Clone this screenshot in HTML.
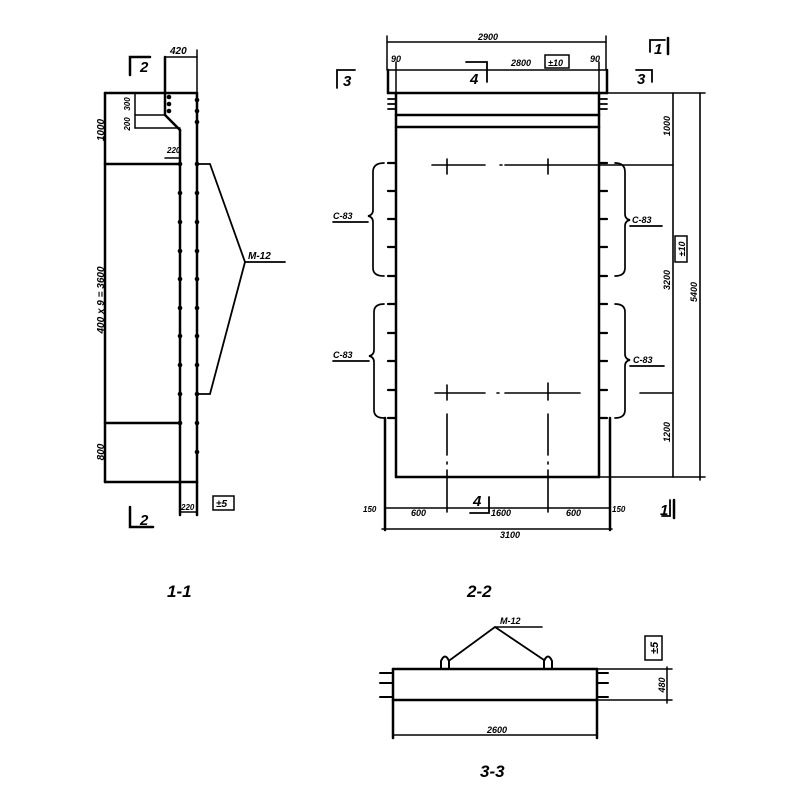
<!DOCTYPE html>
<html><head><meta charset="utf-8"><style>
html,body{margin:0;padding:0;background:#fff}
svg{display:block}
text{font-family:"Liberation Sans",sans-serif;font-style:italic;font-weight:bold;fill:#000}
</style></head><body>
<svg width="800" height="800" viewBox="0 0 800 800" xmlns="http://www.w3.org/2000/svg">
<g stroke="#000" stroke-width="2.5" fill="none" stroke-linecap="round">
<line x1="105" y1="93" x2="197" y2="93"/>
<line x1="105" y1="93" x2="105" y2="482"/>
<line x1="105" y1="482" x2="197" y2="482"/>
<line x1="197" y1="93" x2="197" y2="515"/>
<line x1="180" y1="130" x2="180" y2="515"/>
<polyline points="165,57 165,115 180,130"/>
<line x1="105" y1="164" x2="180" y2="164"/>
<line x1="105" y1="423" x2="180" y2="423"/>
<line x1="165" y1="57" x2="197" y2="57" stroke-width="1.5"/>
<line x1="197" y1="50" x2="197" y2="93" stroke-width="1.5"/>
<line x1="135" y1="93" x2="135" y2="128" stroke-width="1.5"/>
<line x1="135" y1="115" x2="165" y2="115" stroke-width="1.5"/>
<line x1="135" y1="128" x2="180" y2="128" stroke-width="1.5"/>
<line x1="165" y1="158" x2="180" y2="158" stroke-width="1.5"/>
<line x1="180" y1="512" x2="197" y2="512" stroke-width="1.5"/>
<polyline points="197,164 210,164 245,262 210,394 197,394" stroke-width="1.8"/>
<line x1="245" y1="262" x2="285" y2="262" stroke-width="1.8"/>
<polyline points="130,75 130,57 150,57"/>
<polyline points="130,507 130,527 153,527"/>
<line x1="396" y1="93" x2="599" y2="93"/>
<line x1="396" y1="115" x2="599" y2="115"/>
<line x1="396" y1="127" x2="599" y2="127"/>
<line x1="396" y1="477" x2="599" y2="477"/>
<line x1="396" y1="93" x2="396" y2="477"/>
<line x1="599" y1="93" x2="599" y2="477"/>
<line x1="388" y1="70" x2="388" y2="93"/>
<line x1="607" y1="70" x2="607" y2="93"/>
<line x1="388" y1="93" x2="396" y2="93"/>
<line x1="599" y1="93" x2="607" y2="93"/>
<line x1="388" y1="70" x2="607" y2="70" stroke-width="1.5"/>
<line x1="396" y1="62" x2="396" y2="93" stroke-width="1.5"/>
<line x1="599" y1="62" x2="599" y2="93" stroke-width="1.5"/>
<line x1="387" y1="42" x2="606" y2="42" stroke-width="1.5"/>
<line x1="387" y1="36" x2="387" y2="70" stroke-width="1.5"/>
<line x1="606" y1="36" x2="606" y2="70" stroke-width="1.5"/>
<g stroke-width="1.8">
<line x1="388" y1="99" x2="396" y2="99"/><line x1="388" y1="104" x2="396" y2="104"/><line x1="388" y1="109" x2="396" y2="109"/>
<line x1="599" y1="99" x2="607" y2="99"/><line x1="599" y1="104" x2="607" y2="104"/><line x1="599" y1="109" x2="607" y2="109"/>
</g>
<g stroke-width="2.2">
<line x1="388" y1="163" x2="396" y2="163"/><line x1="388" y1="191" x2="396" y2="191"/><line x1="388" y1="219" x2="396" y2="219"/><line x1="388" y1="247" x2="396" y2="247"/><line x1="388" y1="276" x2="396" y2="276"/>
<line x1="388" y1="304" x2="396" y2="304"/><line x1="388" y1="333" x2="396" y2="333"/><line x1="388" y1="361" x2="396" y2="361"/><line x1="388" y1="390" x2="396" y2="390"/><line x1="388" y1="418" x2="396" y2="418"/>
<line x1="599" y1="163" x2="607" y2="163"/><line x1="599" y1="191" x2="607" y2="191"/><line x1="599" y1="219" x2="607" y2="219"/><line x1="599" y1="247" x2="607" y2="247"/><line x1="599" y1="276" x2="607" y2="276"/>
<line x1="599" y1="304" x2="607" y2="304"/><line x1="599" y1="333" x2="607" y2="333"/><line x1="599" y1="361" x2="607" y2="361"/><line x1="599" y1="390" x2="607" y2="390"/><line x1="599" y1="418" x2="607" y2="418"/>
</g>
<polyline points="385,418 385,530"/>
<polyline points="610,418 610,530"/>
<g stroke-width="1.7">
<path d="M384,163 Q373,163 373,172 L373,210 Q373,215 368,216 Q373,217 373,222 L373,268 Q373,276 384,276"/>
<path d="M384,304 Q374,304 374,312 L374,350 Q374,355 369,356 Q374,357 374,362 L374,410 Q374,418 384,418"/>
<path d="M615,163 Q625,163 625,172 L625,214 Q625,219 630,220 Q625,221 625,226 L625,268 Q625,276 615,276"/>
<path d="M615,304 Q625,304 625,312 L625,354 Q625,359 630,360 Q625,361 625,366 L625,410 Q625,418 615,418"/>
<line x1="333" y1="222" x2="368" y2="222"/><line x1="333" y1="361" x2="369" y2="361"/>
<line x1="630" y1="226" x2="662" y2="226"/><line x1="630" y1="366" x2="664" y2="366"/>
</g>
<g stroke-width="1.6">
<line x1="432" y1="165" x2="485" y2="165"/><line x1="500" y1="165" x2="502" y2="165"/><line x1="505" y1="165" x2="673" y2="165"/>
<line x1="435" y1="393" x2="485" y2="393"/><line x1="497" y1="393" x2="499" y2="393"/><line x1="505" y1="393" x2="580" y2="393"/>
<line x1="640" y1="393" x2="673" y2="393"/>
<line x1="447" y1="159" x2="447" y2="174"/><line x1="548" y1="159" x2="548" y2="174"/>
<line x1="447" y1="385" x2="447" y2="400"/><line x1="548" y1="383" x2="548" y2="400"/>
<line x1="447" y1="414" x2="447" y2="455"/><line x1="447" y1="462" x2="447" y2="464"/><line x1="447" y1="470" x2="447" y2="512"/>
<line x1="548" y1="414" x2="548" y2="455"/><line x1="548" y1="462" x2="548" y2="464"/><line x1="548" y1="470" x2="548" y2="512"/>
</g>
<g stroke-width="1.6">
<line x1="599" y1="93" x2="705" y2="93"/>
<line x1="599" y1="477" x2="705" y2="477"/>
<line x1="673" y1="93" x2="673" y2="477"/>
<line x1="700" y1="93" x2="700" y2="480"/>
<line x1="385" y1="508" x2="610" y2="508"/>
<line x1="382" y1="529" x2="612" y2="529"/>
<rect x="675" y="236" width="12" height="26" stroke-width="1.5"/>
<rect x="545" y="55" width="24" height="13" stroke-width="1.5"/>
<rect x="213" y="496" width="21" height="14" stroke-width="1.5"/>
</g>
<polyline points="650,52 650,40 665,40" stroke-width="1.8"/>
<line x1="668" y1="38" x2="668" y2="54"/>
<polyline points="337,88 337,70 355,70" stroke-width="1.8"/>
<polyline points="636,70 652,70 652,82" stroke-width="1.8"/>
<polyline points="466,62 487,62 487,82" stroke-width="1.8"/>
<polyline points="470,513 489,513 489,497" stroke-width="1.8"/>
<polyline points="662,516 670,516 670,500" stroke-width="1.8"/>
<line x1="674" y1="500" x2="674" y2="518"/>
<line x1="393" y1="669" x2="597" y2="669"/>
<line x1="393" y1="700" x2="597" y2="700"/>
<line x1="393" y1="669" x2="393" y2="738"/>
<line x1="597" y1="669" x2="597" y2="738"/>
<line x1="393" y1="735" x2="597" y2="735" stroke-width="1.5"/>
<g stroke-width="2">
<line x1="380" y1="673" x2="393" y2="673"/><line x1="380" y1="683" x2="393" y2="683"/><line x1="380" y1="697" x2="393" y2="697"/>
<line x1="597" y1="673" x2="608" y2="673"/><line x1="597" y1="683" x2="608" y2="683"/><line x1="597" y1="697" x2="608" y2="697"/>
</g>
<path d="M441,669 L441,661 Q445,652 449,661 L449,669" stroke-width="2"/>
<path d="M544,669 L544,661 Q548,652 552,661 L552,669" stroke-width="2"/>
<polyline points="450,660 495,627 544,660" stroke-width="1.8"/>
<line x1="495" y1="627" x2="542" y2="627" stroke-width="1.6"/>
<line x1="597" y1="669" x2="672" y2="669" stroke-width="1.5"/>
<line x1="597" y1="700" x2="672" y2="700" stroke-width="1.5"/>
<line x1="667" y1="667" x2="667" y2="703" stroke-width="1.5"/>
<rect x="645" y="636" width="17" height="24" stroke-width="1.5"/>
</g>
<g fill="#000">
<circle cx="180" cy="164" r="2.3"/><circle cx="180" cy="193" r="2.3"/><circle cx="180" cy="222" r="2.3"/><circle cx="180" cy="251" r="2.3"/><circle cx="180" cy="279" r="2.3"/><circle cx="180" cy="308" r="2.3"/><circle cx="180" cy="336" r="2.3"/><circle cx="180" cy="365" r="2.3"/><circle cx="180" cy="394" r="2.3"/><circle cx="180" cy="423" r="2.3"/>
<circle cx="197" cy="164" r="2.3"/><circle cx="197" cy="193" r="2.3"/><circle cx="197" cy="222" r="2.3"/><circle cx="197" cy="251" r="2.3"/><circle cx="197" cy="279" r="2.3"/><circle cx="197" cy="308" r="2.3"/><circle cx="197" cy="336" r="2.3"/><circle cx="197" cy="365" r="2.3"/><circle cx="197" cy="394" r="2.3"/><circle cx="197" cy="423" r="2.3"/><circle cx="197" cy="452" r="2.3"/>
<circle cx="169" cy="97" r="2.3"/><circle cx="169" cy="104" r="2.3"/><circle cx="169" cy="111" r="2.3"/><circle cx="197" cy="100" r="2.3"/><circle cx="197" cy="111" r="2.3"/><circle cx="197" cy="122" r="2.3"/>
</g>
<g font-size="10">
<text x="170" y="54">420</text>
<text x="140" y="72" font-size="15">2</text>
<text x="140" y="525" font-size="15">2</text>
<text transform="translate(104,130) rotate(-90)" text-anchor="middle">1000</text>
<text transform="translate(104,300) rotate(-90)" text-anchor="middle">400 x 9 = 3600</text>
<text transform="translate(104,452) rotate(-90)" text-anchor="middle">800</text>
<text transform="translate(130,104) rotate(-90)" text-anchor="middle" font-size="8">300</text>
<text transform="translate(130,124) rotate(-90)" text-anchor="middle" font-size="8">200</text>
<text x="167" y="153" font-size="8">220</text>
<text x="181" y="510" font-size="8">220</text>
<text x="216" y="507">±5</text>
<text x="248" y="259">M-12</text>
<text x="167" y="597" font-size="17">1-1</text>
<text x="467" y="597" font-size="17">2-2</text>
<text x="478" y="40" font-size="9">2900</text>
<text x="391" y="62" font-size="9">90</text>
<text x="590" y="62" font-size="9">90</text>
<text x="511" y="66" font-size="9">2800</text>
<text x="548" y="66" font-size="9">±10</text>
<text x="654" y="54" font-size="15">1</text>
<text x="343" y="86" font-size="15">3</text>
<text x="637" y="84" font-size="15">3</text>
<text x="470" y="84" font-size="15">4</text>
<text x="473" y="506" font-size="15">4</text>
<text x="660" y="515" font-size="15">1</text>
<text x="333" y="219" font-size="9">C-83</text>
<text x="333" y="358" font-size="9">C-83</text>
<text x="632" y="223" font-size="9">C-83</text>
<text x="633" y="363" font-size="9">C-83</text>
<text transform="translate(670,126) rotate(-90)" text-anchor="middle" font-size="9">1000</text>
<text transform="translate(670,280) rotate(-90)" text-anchor="middle" font-size="9">3200</text>
<text transform="translate(670,432) rotate(-90)" text-anchor="middle" font-size="9">1200</text>
<text transform="translate(697,292) rotate(-90)" text-anchor="middle" font-size="9">5400</text>
<text transform="translate(685,249) rotate(-90)" text-anchor="middle" font-size="9">±10</text>
<text x="363" y="512" font-size="8">150</text>
<text x="411" y="516" font-size="9">600</text>
<text x="491" y="516" font-size="9">1600</text>
<text x="566" y="516" font-size="9">600</text>
<text x="612" y="512" font-size="8">150</text>
<text x="500" y="538" font-size="9">3100</text>
<text x="500" y="624" font-size="9">M-12</text>
<text x="487" y="733" font-size="9">2600</text>
<text transform="translate(665,685) rotate(-90)" text-anchor="middle" font-size="9">480</text>
<text transform="translate(658,648) rotate(-90)" text-anchor="middle" font-size="11">±5</text>
<text x="480" y="777" font-size="17">3-3</text>
</g>
</svg>
</body></html>
